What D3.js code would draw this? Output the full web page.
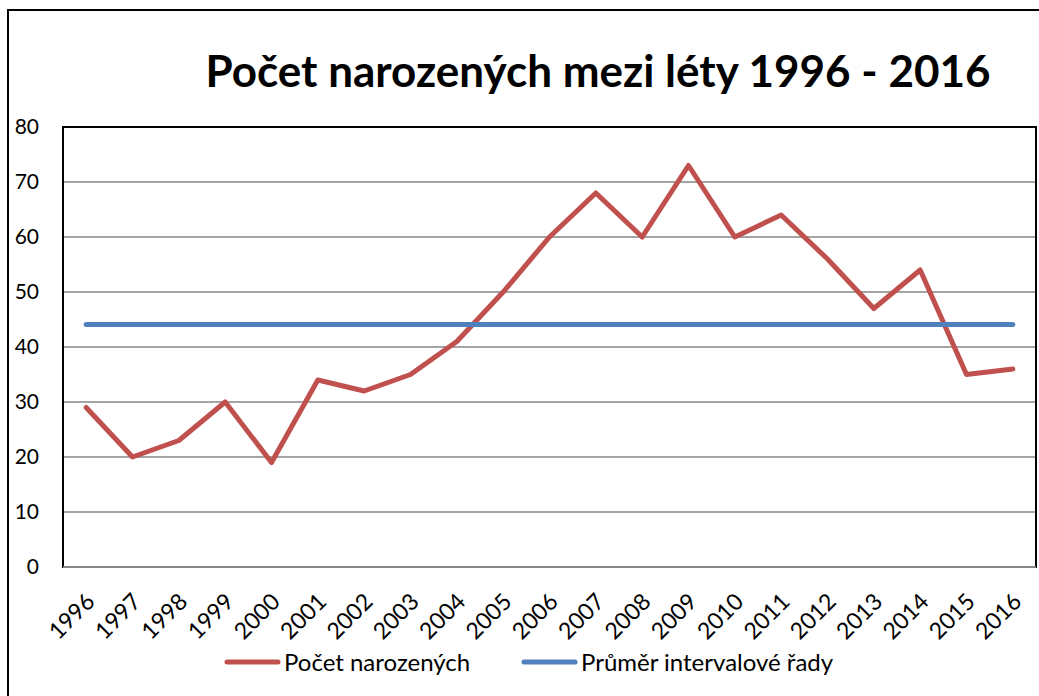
<!DOCTYPE html>
<html>
<head>
<meta charset="utf-8">
<script src="https://cdn.jsdelivr.net/npm/d3@7"></script>
<style>
  body { margin: 0; background: #fff; }
  text { font-family: Lato, "Open Sans", sans-serif; fill: #000; }
</style>
</head>
<body>
<script>
// chart data
var years = ["1996", "1997", "1998", "1999", "2000", "2001", "2002", "2003", "2004", "2005", "2006",
             "2007", "2008", "2009", "2010", "2011", "2012", "2013", "2014", "2015", "2016"];
var births = [29, 20, 23, 30, 19, 34, 32, 35, 41, 50, 60, 68, 60, 73, 60, 64, 56, 47, 54, 35, 36];
var average = [44.1, 44.1, 44.1, 44.1, 44.1, 44.1, 44.1, 44.1, 44.1, 44.1, 44.1,
               44.1, 44.1, 44.1, 44.1, 44.1, 44.1, 44.1, 44.1, 44.1, 44.1];
var yTicks = [0, 10, 20, 30, 40, 50, 60, 70, 80];
var seriesNames = ["Počet narozených", "Průměr intervalové řady"];
var seriesColors = ["#C0504D", "#4F81BD"];

var width = 1039, height = 696;
var plot = {left: 63, top: 127, right: 1036, bottom: 567};

var svg = d3.select("body").append("svg")
    .attr("width", width)
    .attr("height", height);

// outer frame (runs off the right and bottom edge)
svg.append("path")
    .attr("d", "M8,720 L8,10 L1060,10")
    .attr("fill", "none")
    .attr("stroke", "#000")
    .attr("stroke-width", 2);

// title
var title = svg.append("text")
    .attr("x", 598)
    .attr("y", 87)
    .attr("text-anchor", "middle")
    .attr("font-weight", "bold")
    .attr("font-size", 40)
    .text("Počet narozených mezi léty 1996 - 2016");
// fit to the reference width
var tl = title.node().getComputedTextLength();
title.attr("font-size", 40 * 785 / tl);

var xScale = d3.scaleBand()
    .domain(years)
    .range([plot.left, plot.right]);

var yScale = d3.scaleLinear()
    .domain([0, 80])
    .range([plot.bottom, plot.top]);

// gridlines
svg.append("g")
    .selectAll("line")
    .data(yTicks.filter(function(d) { return d > 0 && d < 80; }))
    .enter()
    .append("line")
    .attr("x1", plot.left)
    .attr("x2", plot.right)
    .attr("y1", function(d) { return yScale(d); })
    .attr("y2", function(d) { return yScale(d); })
    .attr("stroke", "#868686")
    .attr("stroke-width", 1.5);

// y axis labels
var yAxis = d3.axisLeft(yScale).tickValues(yTicks).tickSize(0).tickPadding(0);
var gy = svg.append("g")
    .attr("transform", "translate(39,0)")
    .call(yAxis);
gy.select(".domain").remove();
gy.selectAll("text")
    .attr("font-size", 21)
    .attr("font-family", "Lato, sans-serif")
    .attr("fill", "#000");

// x axis labels
var xAxis = d3.axisBottom(xScale).tickSize(0).tickPadding(0);
var gx = svg.append("g")
    .attr("transform", "translate(0," + plot.bottom + ")")
    .call(xAxis);
gx.select(".domain").remove();
gx.selectAll("text")
    .attr("font-size", 23)
    .attr("font-family", "Lato, sans-serif")
    .attr("fill", "#000")
    .attr("text-anchor", "end")
    .attr("dy", 0)
    .attr("transform", "translate(10,36) rotate(-45)");

// plot border
svg.append("rect")
    .attr("x", plot.left)
    .attr("y", plot.top)
    .attr("width", plot.right - plot.left)
    .attr("height", plot.bottom - plot.top)
    .attr("fill", "none")
    .attr("stroke", "#000")
    .attr("stroke-width", 2);
svg.append("line")
    .attr("x1", plot.left).attr("x2", plot.right)
    .attr("y1", plot.bottom).attr("y2", plot.bottom)
    .attr("stroke", "#868686")
    .attr("stroke-width", 2);

// lines
var line = d3.line()
    .x(function(d, i) { return xScale(years[i]) + xScale.bandwidth() / 2; })
    .y(function(d) { return yScale(d); });

[births, average].forEach(function(series, k) {
    svg.append("path")
        .datum(series)
        .attr("fill", "none")
        .attr("stroke", seriesColors[k])
        .attr("stroke-width", 5)
        .attr("stroke-linejoin", "round")
        .attr("stroke-linecap", "round")
        .attr("d", line);
});

// legend
var legendX = [227, 524];
var legend = svg.selectAll(".legend")
    .data(seriesNames)
    .enter()
    .append("g")
    .attr("class", "legend")
    .attr("transform", function(d, i) { return "translate(" + legendX[i] + ",662)"; });
legend.append("line")
    .attr("x1", 0).attr("x2", 51)
    .attr("stroke", function(d, i) { return seriesColors[i]; })
    .attr("stroke-width", 5)
    .attr("stroke-linecap", "round");
legend.append("text")
    .attr("x", 57)
    .attr("y", 9)
    .attr("font-size", 24)
    .text(function(d) { return d; });
</script>
</body>
</html>
